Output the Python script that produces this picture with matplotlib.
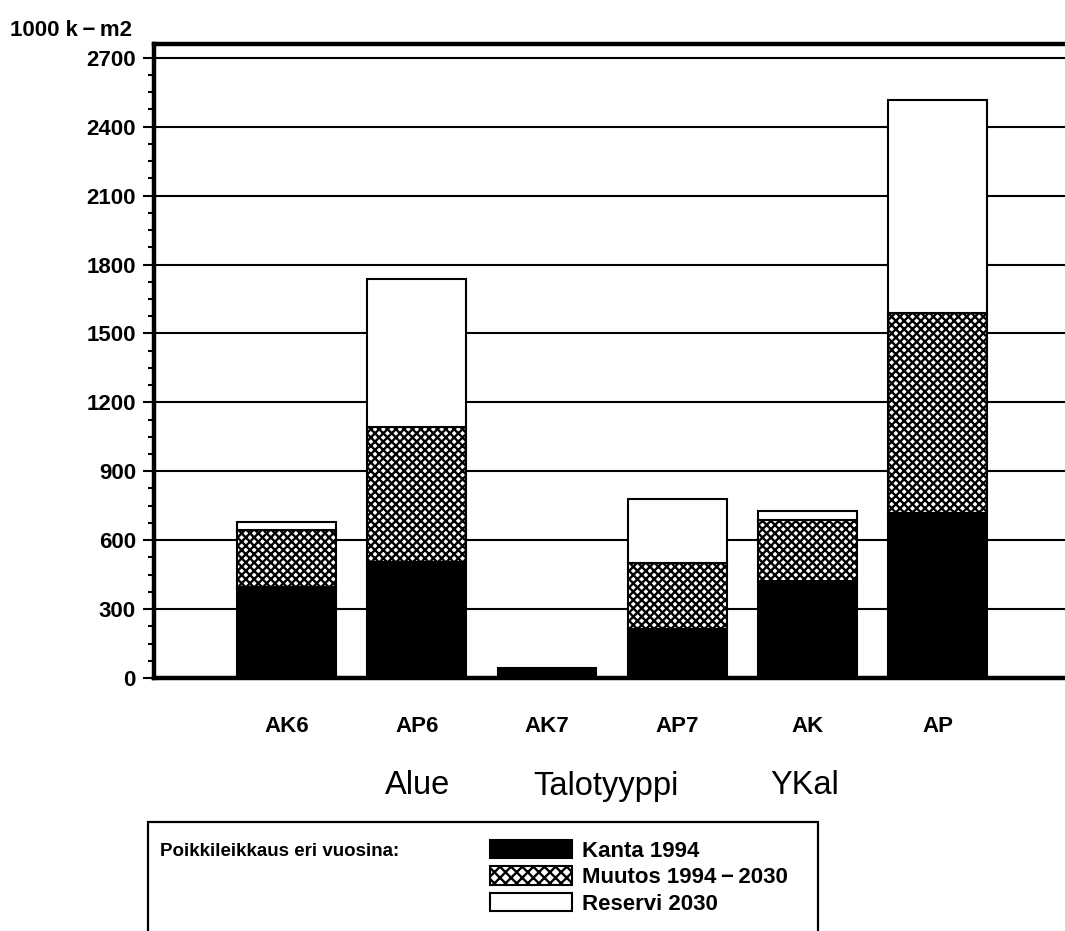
import matplotlib
matplotlib.use("Agg")
import matplotlib.pyplot as plt
from matplotlib.patches import Rectangle, Patch
from matplotlib.ticker import MultipleLocator
import numpy as np

# ---- data ----
categories = ["AK6", "AP6", "AK7", "AP7", "AK", "AP"]
kanta_1994 = [395, 505, 45, 215, 422, 717]
muutos_1994_2030 = [250, 588, 0, 285, 265, 870]
reservi_2030 = [35, 646, 0, 280, 40, 928]
series_labels = ["Kanta 1994", "Muutos 1994\u2009\u2212\u20092030", "Reservi 2030"]
group_labels = ["Alue", "Talotyyppi", "YKal"]
y_unit = "1000 k\u2009\u2212\u2009m2"
legend_title = "Poikkileikkaus eri vuosina:"
y_ticks = [0, 300, 600, 900, 1200, 1500, 1800, 2100, 2400, 2700]

plt.rcParams["font.family"] = ["Liberation Sans", "DejaVu Sans"]
plt.rcParams["hatch.linewidth"] = 1.7
plt.rcParams["hatch.color"] = "black"

W, H = 1065, 931
fig = plt.figure(figsize=(W / 100, H / 100), dpi=100)

def fx(px):
    return px / W

def fy(py):
    return 1 - py / H

ax_left, ax_top, ax_bottom = 154, 44, 678
ax = fig.add_axes([fx(ax_left), fy(ax_bottom), 1 - fx(ax_left), (ax_bottom - ax_top) / H])

x = np.arange(1, len(categories) + 1)
width = 0.76
k = np.array(kanta_1994)
m = np.array(muutos_1994_2030)
r = np.array(reservi_2030)

HATCH = "xxxx"
ax.bar(x, k, width, color="black", edgecolor="black", linewidth=1.5, zorder=3)
mask = m > 0
ax.bar(x[mask], m[mask], width, bottom=k[mask], color="white", edgecolor="black",
       hatch=HATCH, linewidth=1.5, zorder=3)
mask_r = r > 0
ax.bar(x[mask_r], r[mask_r], width, bottom=(k + m)[mask_r], color="white",
       edgecolor="black", linewidth=1.5, zorder=3)

ax.set_xlim(-0.02, 6.98)
ax.set_ylim(0, 2760)
ax.set_yticks(y_ticks)
ax.yaxis.set_minor_locator(MultipleLocator(75))
ax.set_yticklabels([str(v) for v in y_ticks], fontsize=16, fontweight="bold")
ax.tick_params(axis="y", which="major", length=8, width=1.5, direction="out", pad=5)
ax.tick_params(axis="y", which="minor", length=4, width=1.5, direction="out")
ax.set_xticks(x)
ax.set_xticklabels(categories, fontsize=16, fontweight="bold")
ax.tick_params(axis="x", length=0, pad=27)

ax.grid(axis="y", color="black", linewidth=1.5, zorder=0)
ax.set_axisbelow(True)
for s in ["left", "top", "bottom"]:
    ax.spines[s].set_linewidth(3.2)
ax.spines["right"].set_visible(False)

fig.text(fx(10), fy(30), y_unit, fontsize=16, fontweight="bold", va="center", ha="left")

group_x = [418, 606, 805]
for gx, gl in zip(group_x, group_labels):
    fig.text(fx(gx), fy(786), gl, fontsize=23.5, ha="center", va="center")

# legend frame
frame = Rectangle((fx(148), fy(960)), fx(818) - fx(148), fy(822) - fy(960),
                  transform=fig.transFigure, fill=False, edgecolor="black", linewidth=1.6)
fig.add_artist(frame)
fig.text(fx(160), fy(851), legend_title, fontsize=13.5, fontweight="bold", va="center", ha="left")

handles = [
    Patch(facecolor="black", edgecolor="black", linewidth=1.5),
    Patch(facecolor="white", edgecolor="black", hatch="xxx", linewidth=1.5),
    Patch(facecolor="white", edgecolor="black", linewidth=1.5),
]
fs_leg = 16
fig.legend(handles, series_labels, loc="upper left",
           bbox_to_anchor=(fx(490), fy(840)), frameon=False,
           prop={"size": fs_leg, "weight": "bold"}, handlelength=82 / (fs_leg * 100 / 72),
           handleheight=20 / (fs_leg * 100 / 72),
           handletextpad=0.45, labelspacing=0.2, borderpad=0, borderaxespad=0)

fig.savefig("out.png", dpi=100)
